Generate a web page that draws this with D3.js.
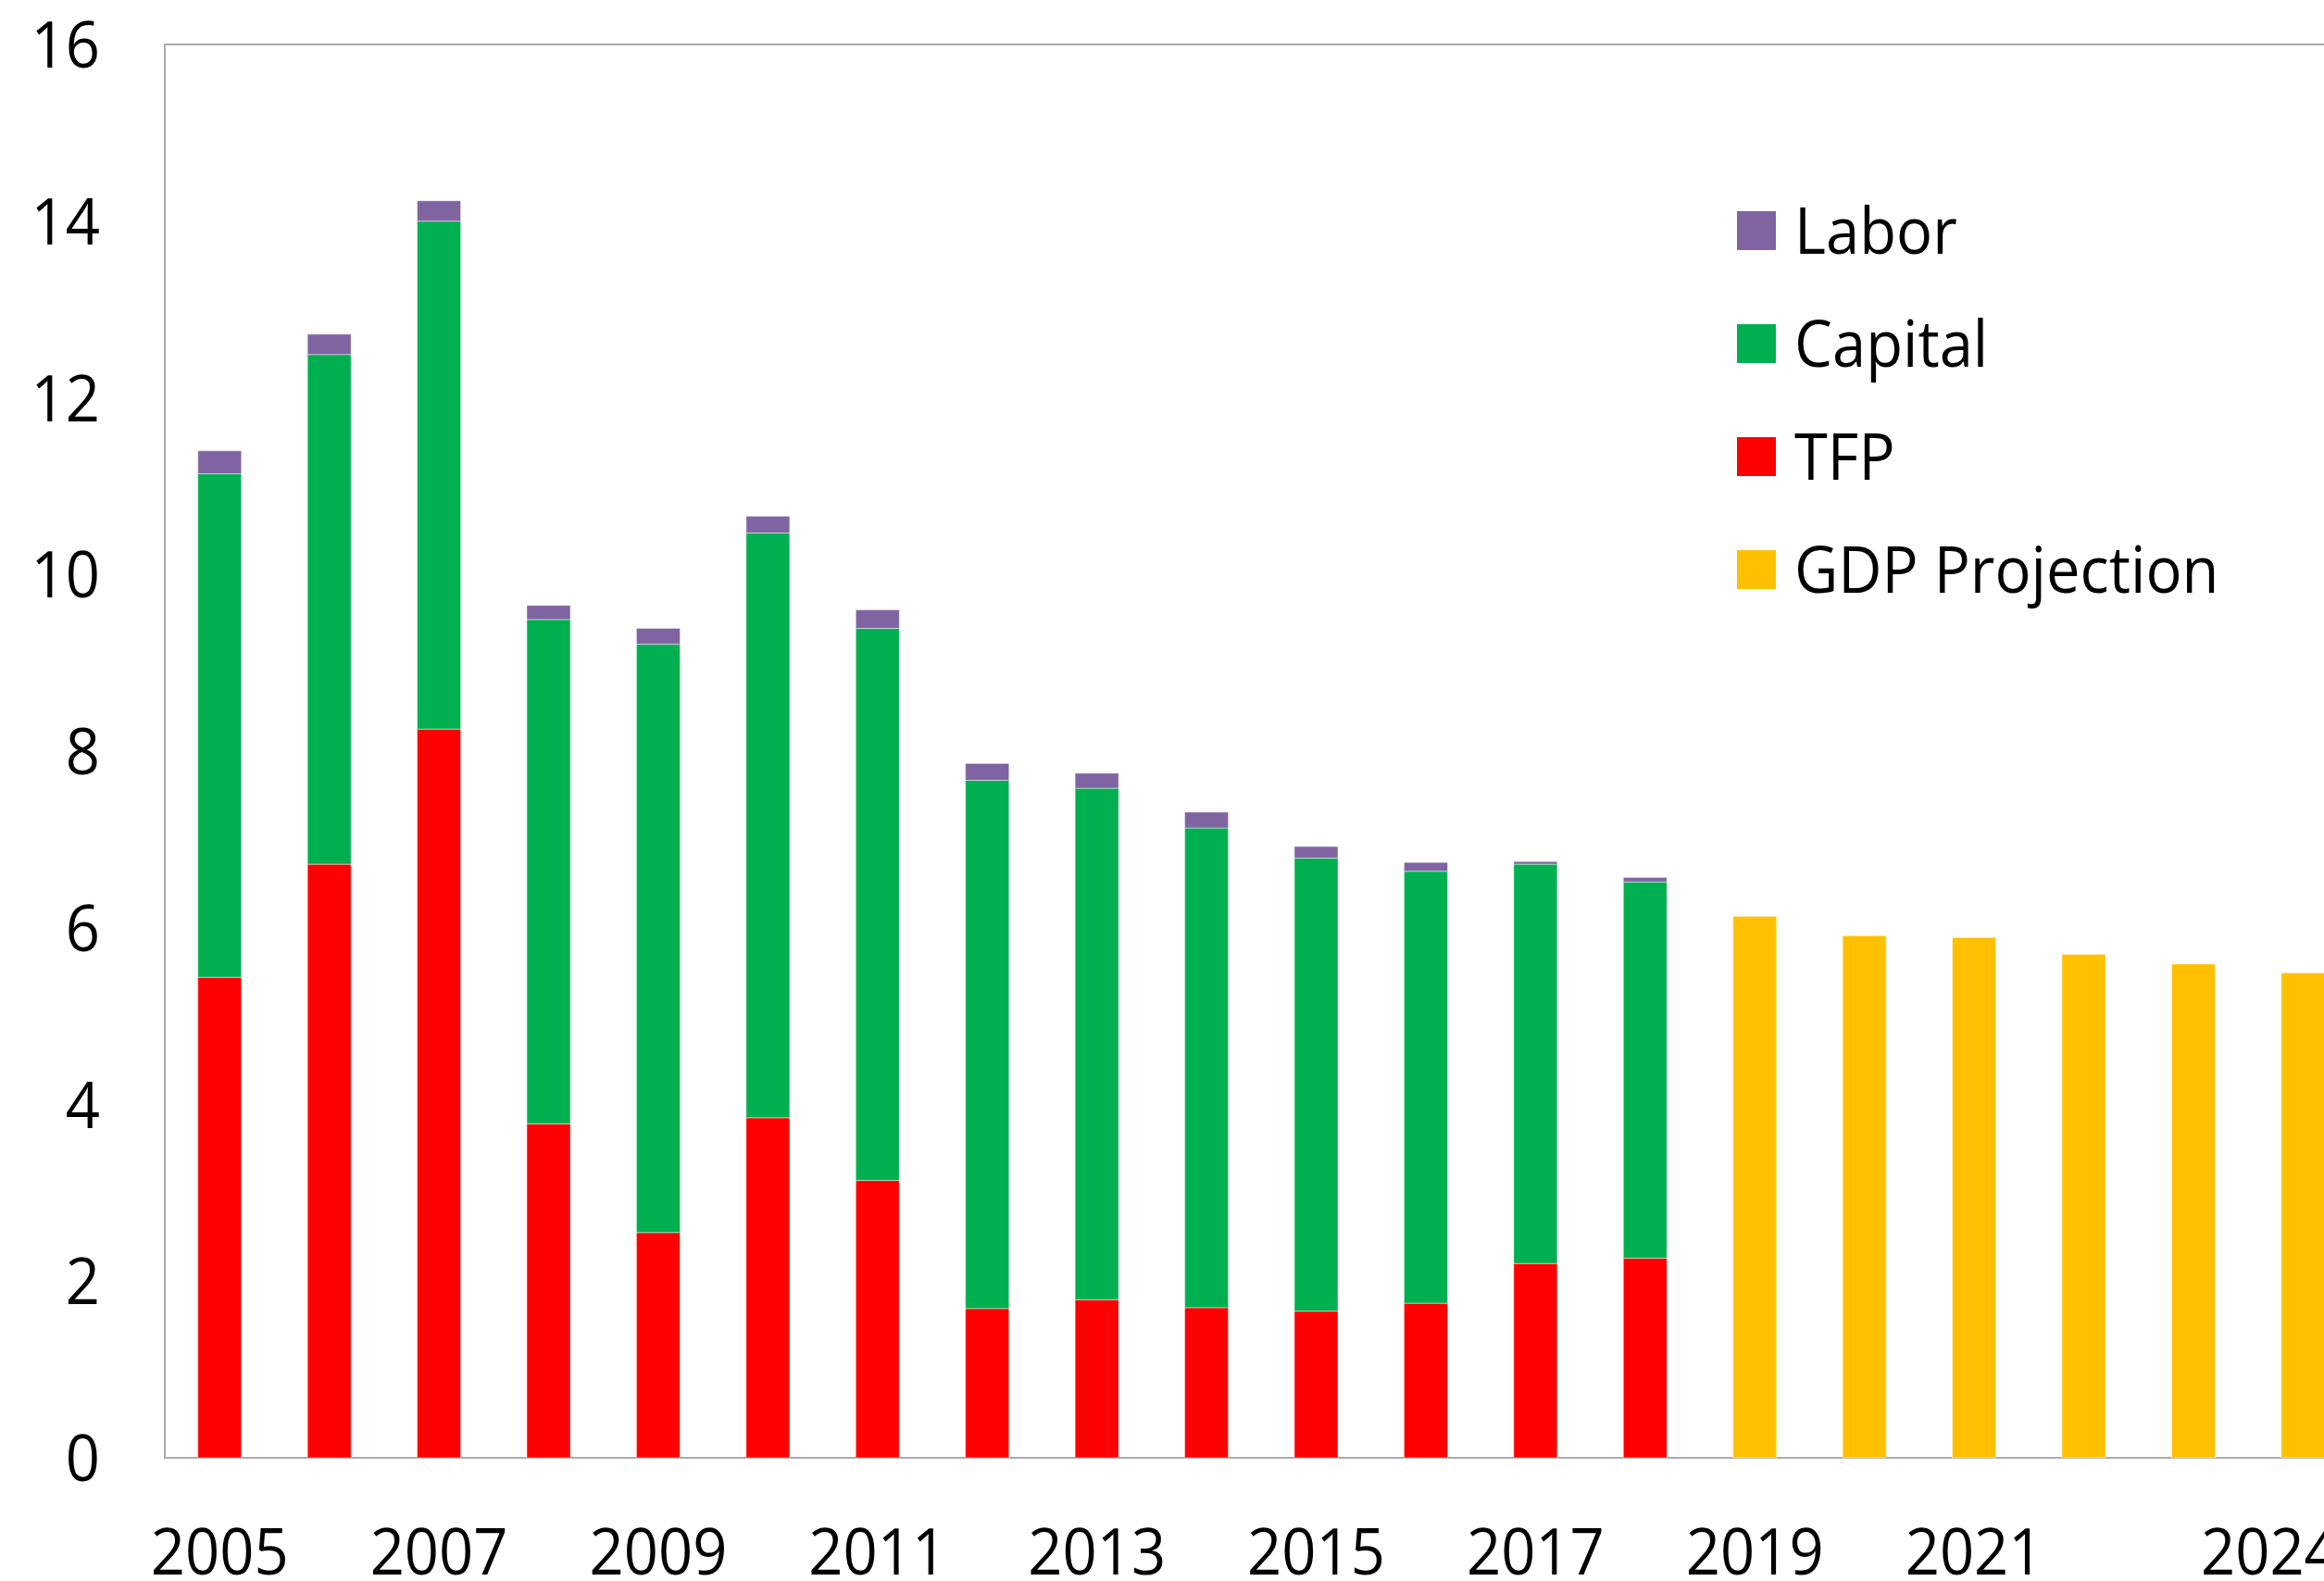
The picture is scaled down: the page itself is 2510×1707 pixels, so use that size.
<!DOCTYPE html>
<html>
<head>
<meta charset="utf-8">
<script src="https://cdn.jsdelivr.net/npm/d3@7"></script>
<style>
  html, body { margin: 0; padding: 0; background: #fff; }
  svg { display: block; }
  text { font-family: "Open Sans", "Noto Sans", sans-serif; fill: #000; }
</style>
</head>
<body>
<svg id="chart" width="2510" height="1707"></svg>
<script>
// ---- data ----
const years = ["2005","2006","2007","2008","2009","2010","2011","2012","2013","2014",
               "2015","2016","2017","2018","2019","2020","2021","2022","2023","2024"];
const histYears = ["2005","2006","2007","2008","2009","2010","2011","2012","2013","2014",
                   "2015","2016","2017","2018"];
const tfp     = [5.44, 6.72, 8.25, 3.78, 2.55, 3.85, 3.14, 1.69, 1.79, 1.70, 1.66, 1.75, 2.20, 2.26];
const capital = [5.70, 5.77, 5.75, 5.71, 6.66, 6.62, 6.25, 5.98, 5.79, 5.43, 5.13, 4.89, 4.52, 4.26];
const labor   = [0.26, 0.23, 0.23, 0.16, 0.18, 0.19, 0.21, 0.19, 0.17, 0.18, 0.13, 0.10, 0.03, 0.05];
const projYears = ["2019","2020","2021","2022","2023","2024"];
const gdpProjection = [6.13, 5.91, 5.89, 5.70, 5.59, 5.49];
const yTicks = [0, 2, 4, 6, 8, 10, 12, 14, 16];
const xTickLabels = ["2005","2007","2009","2011","2013","2015","2017","2019","2021","2024"];
const seriesNames = ["Labor", "Capital", "TFP", "GDP Projection"];
const seriesColors = { "Labor": "#8064A2", "Capital": "#00B050", "TFP": "#FF0000", "GDP Projection": "#FFC000" };

// ---- table for stacking ----
const table = years.map(yr => {
  const hi = histYears.indexOf(yr), pi = projYears.indexOf(yr);
  return {
    year: yr,
    "TFP": hi >= 0 ? tfp[hi] : 0,
    "Capital": hi >= 0 ? capital[hi] : 0,
    "Labor": hi >= 0 ? labor[hi] : 0,
    "GDP Projection": pi >= 0 ? gdpProjection[pi] : 0
  };
});
const stackKeys = ["TFP", "Capital", "Labor", "GDP Projection"];
const stacked = d3.stack().keys(stackKeys)(table);

// ---- layout ----
const svg = d3.select("#chart");
const plotLeft = 178, plotTop = 48, plotBottom = 1574;
const bandStep = 118.43;
const plotRight = plotLeft + years.length * bandStep;

const x = d3.scaleBand().domain(years).range([plotLeft, plotRight]).paddingInner(0.603).paddingOuter(0.3015);
const y = d3.scaleLinear().domain([0, 16]).range([plotBottom, plotTop]);

// plot area border
svg.append("rect")
  .attr("x", plotLeft).attr("y", plotTop)
  .attr("width", plotRight - plotLeft).attr("height", plotBottom - plotTop)
  .attr("fill", "none").attr("stroke", "#ababab").attr("stroke-width", 2);

// bars
svg.append("g").selectAll("g")
  .data(stacked)
  .join("g")
  .attr("fill", d => seriesColors[d.key])
  .selectAll("rect")
  .data(d => d.filter(s => s[1] - s[0] > 0))
  .join("rect")
  .attr("x", d => x(d.data.year))
  .attr("width", x.bandwidth())
  .attr("y", d => y(d[1]))
  .attr("height", d => y(d[0]) - y(d[1]))
  .attr("stroke", "rgba(255,255,255,0.45)")
  .attr("stroke-width", 1);

// y axis labels
const yAxis = svg.append("g")
  .attr("transform", `translate(${plotLeft},0)`)
  .call(d3.axisLeft(y).tickValues(yTicks).tickSize(0).tickPadding(70).tickFormat(d3.format("d")));
yAxis.select(".domain").remove();
yAxis.selectAll("text").attr("font-size", 70).attr("font-family", null).attr("dy", "0.35em");

// x axis labels
const xAxis = svg.append("g")
  .attr("transform", `translate(0,${plotBottom})`)
  .call(d3.axisBottom(x).tickValues(xTickLabels).tickSize(0).tickPadding(76));
xAxis.select(".domain").remove();
xAxis.selectAll("text").attr("font-size", 70).attr("font-family", null)
  .attr("dx", d => d === "2024" ? -36 : 0);

// legend
const legend = svg.append("g").attr("transform", "translate(1876,228)");
const li = legend.selectAll("g").data(seriesNames).join("g")
  .attr("transform", (d, i) => `translate(0,${i * 122})`);
li.append("rect").attr("width", 42).attr("height", 42).attr("fill", d => seriesColors[d]);
li.append("text").attr("x", 62).attr("y", 21).attr("dy", "0.35em")
  .attr("font-size", 70).text(d => d);

// squeeze text horizontally to match the narrower reference face
svg.selectAll("text").each(function() {
  const len = this.getComputedTextLength();
  d3.select(this).attr("textLength", len * 0.93).attr("lengthAdjust", "spacingAndGlyphs");
});
</script>
</body>
</html>
